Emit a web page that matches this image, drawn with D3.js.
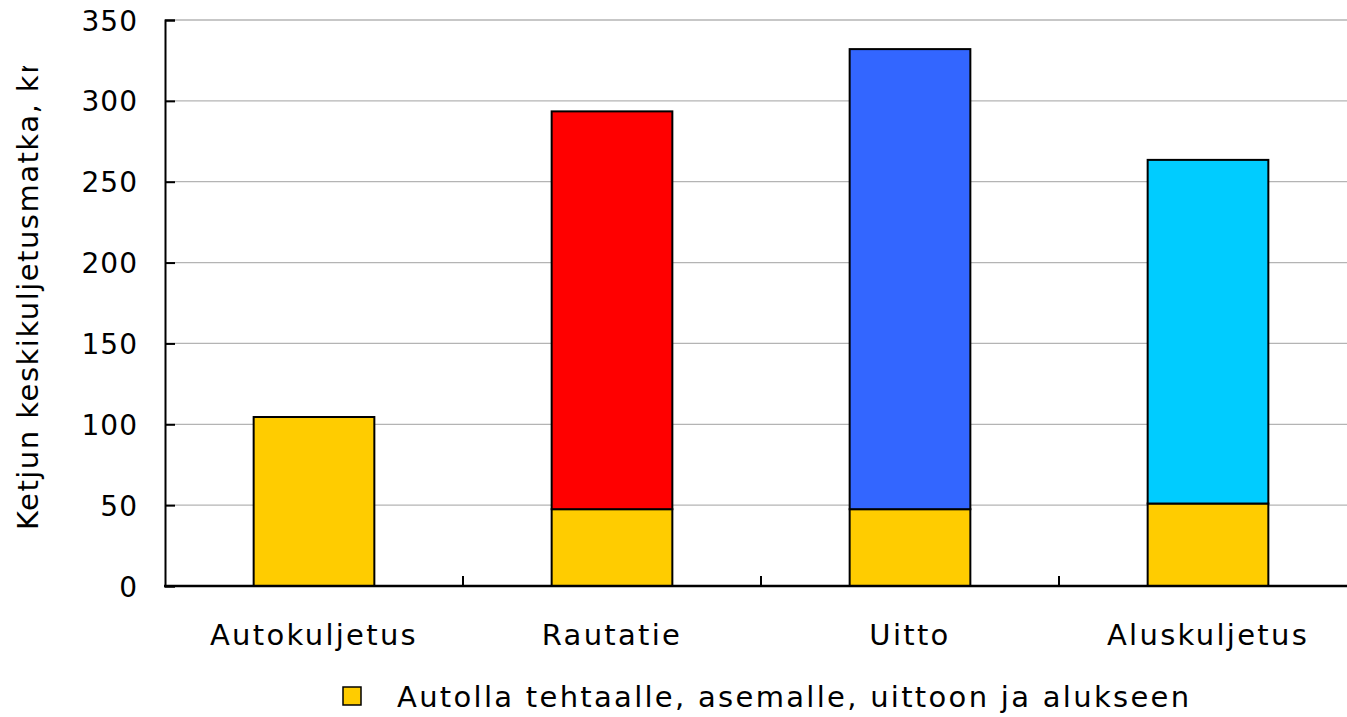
<!DOCTYPE html>
<html><head><meta charset="utf-8">
<script src="https://cdn.jsdelivr.net/npm/d3@7"></script>
<style>
html,body{margin:0;padding:0;background:#fff;}
svg{display:block;}
text{font-family:"DejaVu Sans",Verdana,sans-serif;fill:#000;}
</style></head>
<body>
<svg id="chart" width="1347" height="717"></svg>
<script>
const categories = ["Autokuljetus", "Rautatie", "Uitto", "Aluskuljetus"];
const truckLeg = [104.5, 47.5, 47.5, 51];
const mainLeg = [0, 246, 284.5, 212.5];
const mainColors = ["#FFCC00", "#FF0000", "#3366FF", "#00CCFF"];
const yTicks = [0, 50, 100, 150, 200, 250, 300, 350];
const yLabel = "Ketjun keskikuljetusmatka, km";
const legendLabel = "Autolla tehtaalle, asemalle, uittoon ja alukseen";
const truckColor = "#FFCC00";

const svg = d3.select("#chart");
const mLeft = 165, mRight = 1357, mTop = 20, mBottom = 586;

const x = d3.scaleBand().domain(categories).range([mLeft, mRight]).paddingInner(0.595).paddingOuter(0.2975);
const y = d3.scaleLinear().domain([0, 350]).range([mBottom, mTop]);

// gridlines
svg.append("g").selectAll("line").data(yTicks.filter(d => d > 0)).join("line")
  .attr("x1", mLeft).attr("x2", mRight)
  .attr("y1", d => y(d)).attr("y2", d => y(d))
  .attr("stroke", "#b4b4b4").attr("stroke-width", 1.3);

// bars
const rows = categories.map((c, i) => ({c, truck: truckLeg[i], main: mainLeg[i], color: mainColors[i]}));
const g = svg.append("g");
g.selectAll("rect.truck").data(rows).join("rect").attr("class", "truck")
  .attr("x", d => x(d.c)).attr("width", x.bandwidth())
  .attr("y", d => y(d.truck)).attr("height", d => y(0) - y(d.truck))
  .attr("fill", truckColor).attr("stroke", "#000").attr("stroke-width", 2);
g.selectAll("rect.main").data(rows.filter(d => d.main > 0)).join("rect").attr("class", "main")
  .attr("x", d => x(d.c)).attr("width", x.bandwidth())
  .attr("y", d => y(d.truck + d.main)).attr("height", d => y(d.truck) - y(d.truck + d.main))
  .attr("fill", d => d.color).attr("stroke", "#000").attr("stroke-width", 2);

// y axis
const yAxis = d3.axisLeft(y).tickValues(yTicks).tickSize(-10).tickPadding(27).tickFormat(d3.format("d"));
const ya = svg.append("g").attr("transform", `translate(${mLeft},0)`).call(yAxis);
ya.select(".domain").attr("stroke", "#000").attr("stroke-width", 2);
ya.selectAll(".tick line").attr("stroke", "#000").attr("stroke-width", 2);
ya.selectAll(".tick text").style("font-size", "28px").attr("dy", "0.36em").style("letter-spacing", "1px");

// x axis with ticks at category boundaries
const xa = svg.append("g").attr("transform", `translate(0,${mBottom})`);
xa.append("line").attr("x1", mLeft - 1).attr("x2", mRight).attr("stroke", "#000").attr("stroke-width", 2.5);
const bounds = categories.slice(1).map(c => x(c) - (x.step() - x.bandwidth()) / 2);
xa.selectAll("line.tk").data(bounds).join("line").attr("class", "tk")
  .attr("x1", d => d).attr("x2", d => d).attr("y1", 0).attr("y2", -10)
  .attr("stroke", "#000").attr("stroke-width", 2);
xa.selectAll("text").data(categories).join("text")
  .attr("x", d => x(d) + x.bandwidth() / 2).attr("y", 59)
  .attr("text-anchor", "middle").style("font-size", "29px").style("letter-spacing", "2.3px")
  .text(d => d);

// y label (clipped at top)
svg.append("clipPath").attr("id", "ylclip").append("rect").attr("x", 0).attr("y", 66).attr("width", 80).attr("height", 650);
svg.append("g").attr("clip-path", "url(#ylclip)")
  .append("text").attr("transform", "translate(38,530) rotate(-90)")
  .attr("text-anchor", "start").style("font-size", "29px").style("letter-spacing", "1.5px")
  .text(yLabel);

// legend
const lg = svg.append("g").attr("transform", "translate(343,687)");
lg.append("rect").attr("width", 18).attr("height", 18).attr("fill", truckColor).attr("stroke", "#000").attr("stroke-width", 1.5);
lg.append("text").attr("x", 54).attr("y", 20).style("font-size", "29px").style("letter-spacing", "2.3px").text(legendLabel);
</script>
</body></html>
